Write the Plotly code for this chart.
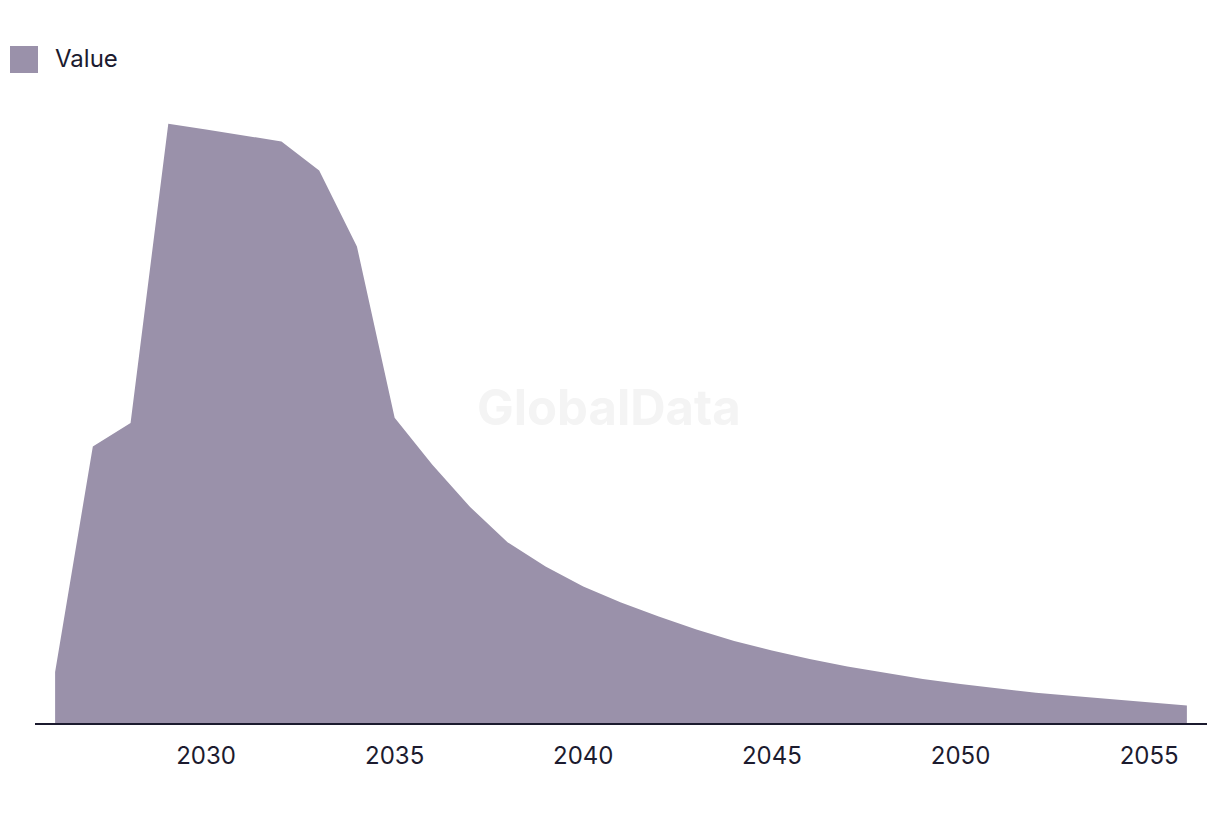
import plotly.graph_objects as go

# Data
years = list(range(2026, 2057))
values = [
    51.0, 276.6, 300.0, 599.3, 593.4, 587.5, 581.6, 552.6, 476.6, 305.3,
    258.3, 216.0, 180.6, 156.6, 136.6, 120.6, 106.6, 93.5, 82.0, 72.6,
    64.0, 56.6, 50.0, 44.0, 39.0, 34.3, 30.3, 27.0, 24.0, 21.0, 17.6,
]
tick_years = [2030, 2035, 2040, 2045, 2050, 2055]
series_name = "Value"

# Colors
fill_color = "#9a91aa"
text_color = "#1c1b2f"
axis_color = "#1b1a2e"

fig = go.Figure()

fig.add_trace(go.Scatter(
    x=years, y=values,
    mode="lines",
    name=series_name,
    fill="tozeroy",
    fillcolor=fill_color,
    line=dict(width=0, color=fill_color),
    showlegend=False,
))

# Legend drawn by hand (big square swatch)
fig.add_shape(
    type="rect",
    xref="paper", xsizemode="pixel", xanchor=0, x0=-25, x1=3,
    yref="paper", ysizemode="pixel", yanchor=1, y0=30, y1=57,
    fillcolor=fill_color, line=dict(width=0),
)
fig.add_annotation(
    text=series_name,
    xref="paper", yref="paper", x=0, y=1,
    xanchor="left", yanchor="middle",
    xshift=18, yshift=45,
    showarrow=False,
    font=dict(size=24, color=text_color),
)

# Watermark
fig.add_annotation(
    text="<b>GlobalData</b>",
    xref="paper", yref="paper", x=0.49, y=0.509,
    showarrow=False,
    font=dict(size=49, color="#f4f4f4"),
)

# page body adds 8px on top/left, so the figure is 8px smaller
fig.update_layout(
    width=1212,
    height=806,
    margin=dict(l=27, r=13, t=95, b=91),
    plot_bgcolor="white",
    paper_bgcolor="white",
    font=dict(family="Inter, Roboto, sans-serif", color=text_color),
    showlegend=False,
)

fig.update_xaxes(
    range=[2025.467, 2056.533],
    tickvals=tick_years,
    ticktext=[str(y) for y in tick_years],
    showgrid=False,
    zeroline=False,
    showline=True,
    linecolor=axis_color,
    linewidth=2,
    ticks="",
    ticklabelstandoff=10,
    tickfont=dict(size=24, color=text_color),
)

fig.update_yaxes(
    range=[0, 620],
    visible=False,
    showgrid=False,
    zeroline=False,
)

fig.write_html("out.html")
